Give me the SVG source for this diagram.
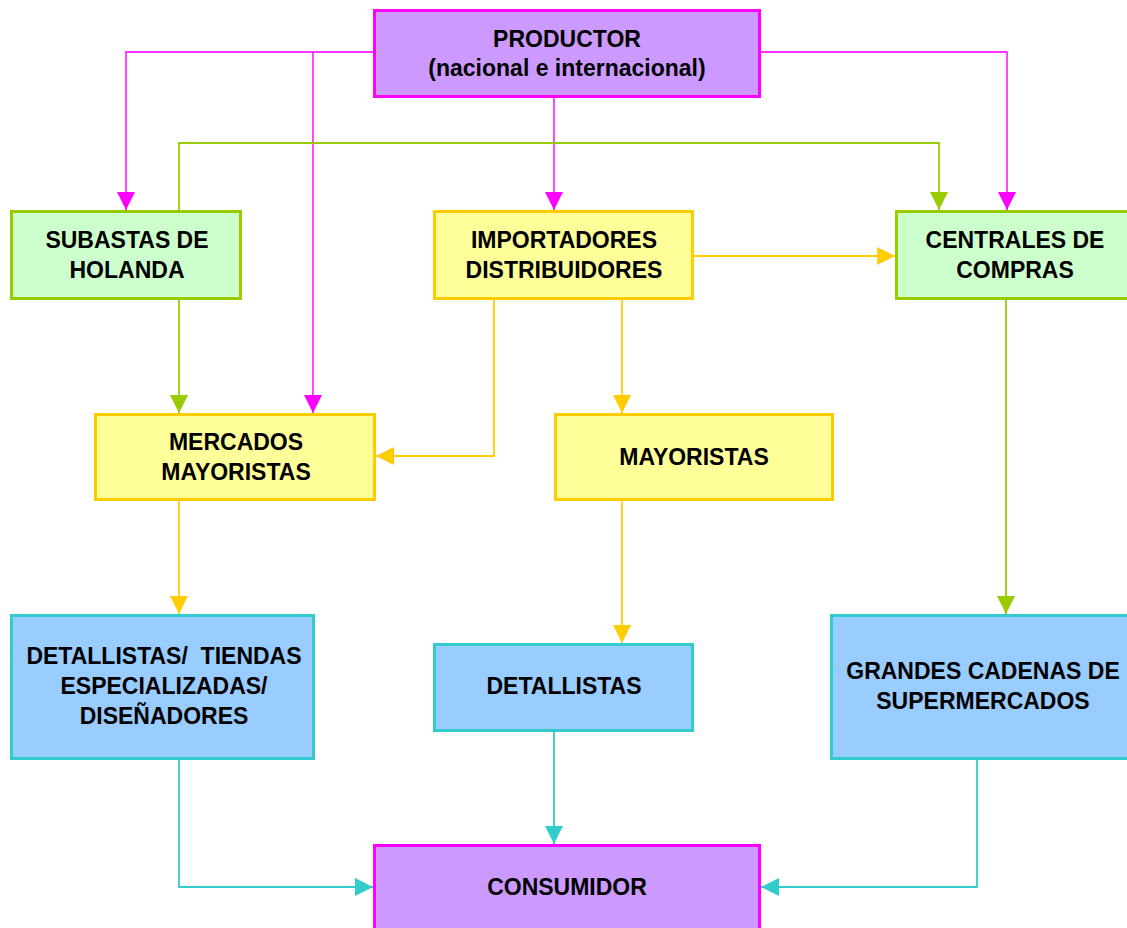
<svg xmlns="http://www.w3.org/2000/svg" width="1127" height="928" viewBox="0 0 1127 928">
  <style>
    .box { stroke-width: 3; }
    .purple { fill: #cc99ff; stroke: #ff00ff; }
    .green { fill: #ccffcc; stroke: #99cc00; }
    .yellow { fill: #ffff99; stroke: #ffcc00; }
    .blue { fill: #99ccff; stroke: #33cccc; }
    text { font-family: "Liberation Sans", Arial, sans-serif; font-weight: bold; font-size: 23px; fill: #000; text-anchor: middle; white-space: pre; }
    .ln { fill: none; stroke-width: 1.8; }
    .m { stroke: #ff33ff; }
    .g { stroke: #99cc00; }
    .y { stroke: #ffcc00; }
    .c { stroke: #33cccc; }
  </style>
  <defs>
    <marker id="ah-m" viewBox="0 0 10 10" refX="10" refY="5" markerWidth="18" markerHeight="18" markerUnits="userSpaceOnUse" orient="auto"><path d="M0,0 L10,5 L0,10 Z" fill="#ff00ff"/></marker>
    <marker id="ah-g" viewBox="0 0 10 10" refX="10" refY="5" markerWidth="18" markerHeight="18" markerUnits="userSpaceOnUse" orient="auto"><path d="M0,0 L10,5 L0,10 Z" fill="#99cc00"/></marker>
    <marker id="ah-y" viewBox="0 0 10 10" refX="10" refY="5" markerWidth="18" markerHeight="18" markerUnits="userSpaceOnUse" orient="auto"><path d="M0,0 L10,5 L0,10 Z" fill="#ffcc00"/></marker>
    <marker id="ah-c" viewBox="0 0 10 10" refX="10" refY="5" markerWidth="18" markerHeight="18" markerUnits="userSpaceOnUse" orient="auto"><path d="M0,0 L10,5 L0,10 Z" fill="#33cccc"/></marker>
  </defs>
  <rect width="1127" height="928" fill="#ffffff"/>

  <g id="connectors">
    <!-- from producer -->
    <path class="ln m" d="M374,52 H126 V210" marker-end="url(#ah-m)"/>
    <path class="ln m" d="M313,52 V413" marker-end="url(#ah-m)"/>
    <path class="ln m" d="M554,97 V210" marker-end="url(#ah-m)"/>
    <path class="ln m" d="M760,52 H1007 V210" marker-end="url(#ah-m)"/>
    <!-- auctions -->
    <path class="ln g" d="M179,211 V143 H939 V210" marker-end="url(#ah-g)"/>
    <path class="ln g" d="M179,299 V413" marker-end="url(#ah-g)"/>
    <!-- importers / distributors -->
    <path class="ln y" d="M693,256 H895" marker-end="url(#ah-y)"/>
    <path class="ln y" d="M494,299 V456 H376" marker-end="url(#ah-y)"/>
    <path class="ln y" d="M622,299 V413" marker-end="url(#ah-y)"/>
    <!-- wholesalers -->
    <path class="ln y" d="M179,500 V614" marker-end="url(#ah-y)"/>
    <path class="ln y" d="M622,500 V643" marker-end="url(#ah-y)"/>
    <!-- purchasing centres -->
    <path class="ln g" d="M1006,299 V614" marker-end="url(#ah-g)"/>
    <!-- retail to consumer -->
    <path class="ln c" d="M179,759 V887 H373" marker-end="url(#ah-c)"/>
    <path class="ln c" d="M554,731 V844" marker-end="url(#ah-c)"/>
    <path class="ln c" d="M977,759 V887 H761" marker-end="url(#ah-c)"/>
  </g>

  <g id="productor">
    <rect class="box purple" x="374.5" y="10.5" width="385" height="86"/>
    <text x="567" y="47">PRODUCTOR</text>
    <text x="567" y="76">(nacional e internacional)</text>
  </g>
  <g id="subastas">
    <rect class="box green" x="11.5" y="211.5" width="229" height="87"/>
    <text x="127" y="248">SUBASTAS DE</text>
    <text x="127" y="278">HOLANDA</text>
  </g>
  <g id="importadores">
    <rect class="box yellow" x="434.5" y="211.5" width="258" height="87"/>
    <text x="564" y="248">IMPORTADORES</text>
    <text x="564" y="278">DISTRIBUIDORES</text>
  </g>
  <g id="centrales">
    <rect class="box green" x="896.5" y="211.5" width="240" height="87"/>
    <text x="1015" y="248">CENTRALES DE</text>
    <text x="1015" y="278">COMPRAS</text>
  </g>
  <g id="mercados">
    <rect class="box yellow" x="95.5" y="414.5" width="279" height="85"/>
    <text x="236" y="450">MERCADOS</text>
    <text x="236" y="480">MAYORISTAS</text>
  </g>
  <g id="mayoristas">
    <rect class="box yellow" x="555.5" y="414.5" width="277" height="85"/>
    <text x="694" y="465">MAYORISTAS</text>
  </g>
  <g id="tiendas">
    <rect class="box blue" x="11.5" y="615.5" width="302" height="143"/>
    <text x="164" y="664">DETALLISTAS/  TIENDAS</text>
    <text x="164" y="694">ESPECIALIZADAS/</text>
    <text x="164" y="724">DISEÑADORES</text>
  </g>
  <g id="detallistas">
    <rect class="box blue" x="434.5" y="644.5" width="258" height="86"/>
    <text x="564" y="694">DETALLISTAS</text>
  </g>
  <g id="supermercados">
    <rect class="box blue" x="831.5" y="615.5" width="305" height="143"/>
    <text x="983" y="679">GRANDES CADENAS DE</text>
    <text x="983" y="709">SUPERMERCADOS</text>
  </g>
  <g id="consumidor">
    <rect class="box purple" x="374.5" y="845.5" width="385" height="95"/>
    <text x="567" y="895">CONSUMIDOR</text>
  </g>
</svg>
